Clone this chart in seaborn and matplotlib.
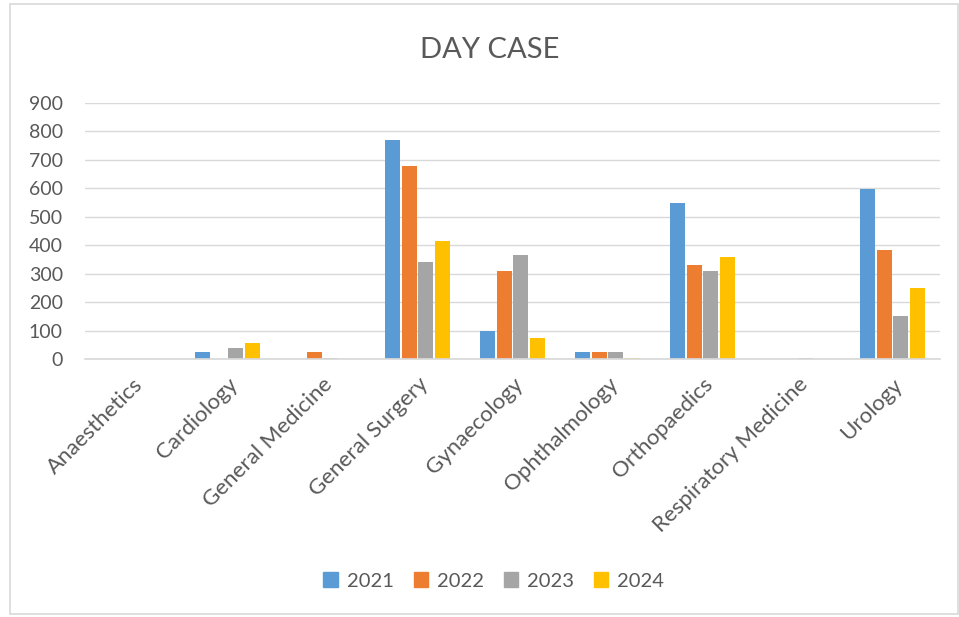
import matplotlib
matplotlib.use("Agg")
import matplotlib.pyplot as plt
import seaborn as sns
import pandas as pd

categories = ["Anaesthetics", "Cardiology", "General Medicine", "General Surgery",
              "Gynaecology", "Ophthalmology", "Orthopaedics", "Respiratory Medicine", "Urology"]
years = ["2021", "2022", "2023", "2024"]
v2021 = [0, 25, 0, 770, 97, 25, 550, 0, 598]
v2022 = [0, 0, 25, 680, 310, 25, 332, 0, 382]
v2023 = [0, 39, 5, 342, 364, 25, 308, 2, 150]
v2024 = [0, 57, 0, 415, 74, 3, 357, 0, 250]
colors = ["#5B9BD5", "#ED7D31", "#A5A5A5", "#FFC000"]

rows = []
for y, vals in zip(years, [v2021, v2022, v2023, v2024]):
    for c, v in zip(categories, vals):
        rows.append({"Category": c, "Year": y, "Value": v})
df = pd.DataFrame(rows)

sns.set_theme(style="white")
plt.rcParams['font.family'] = ['Lato', 'DejaVu Sans']
text_color = "#595959"

fig = plt.figure(figsize=(9.59, 6.17), dpi=100)
ax = fig.add_axes([85/959, 1-359/617, (940-85)/959, (359-103)/617])
sns.barplot(data=df, x="Category", y="Value", hue="Year", palette=colors,
            width=0.7, ax=ax, saturation=1, linewidth=0, gap=0.12)
ax.set_ylim(0, 900)
ax.set_yticks(range(0, 901, 100))
ax.yaxis.grid(True, color="#D9D9D9", linewidth=1)
ax.set_axisbelow(True)
for s in ["top", "right", "left"]:
    ax.spines[s].set_visible(False)
ax.spines["bottom"].set_color("#D9D9D9")
ax.set_xlabel("")
ax.set_ylabel("")
ax.tick_params(axis="y", length=0, labelsize=14, colors=text_color, pad=16)
ax.tick_params(axis="x", length=0, labelsize=16, colors=text_color, pad=11)
ax.set_xticks(range(len(categories)))
ax.set_xticklabels(categories, rotation=45, ha="right", rotation_mode="anchor")
ax.legend_.remove()
handles = [plt.Rectangle((0, 0), 1, 1, color=c) for c in colors]
fig.legend(handles, years, loc="center", bbox_to_anchor=(0.515, 1-581/617), ncol=4,
           frameon=False, fontsize=14.5, handlelength=0.7, handleheight=0.7,
           columnspacing=1.0, handletextpad=0.45, labelcolor=text_color)
fig.text(0.511, 1-50/617, "DAY CASE", ha="center", va="center", fontsize=21, color=text_color)
border = plt.Rectangle((10/959, 0.005), 948/959, 1-4/617-0.005, transform=fig.transFigure,
                       fill=False, edgecolor="#D9D9D9", linewidth=1.2)
fig.add_artist(border)
fig.savefig("out.png", dpi=100)
